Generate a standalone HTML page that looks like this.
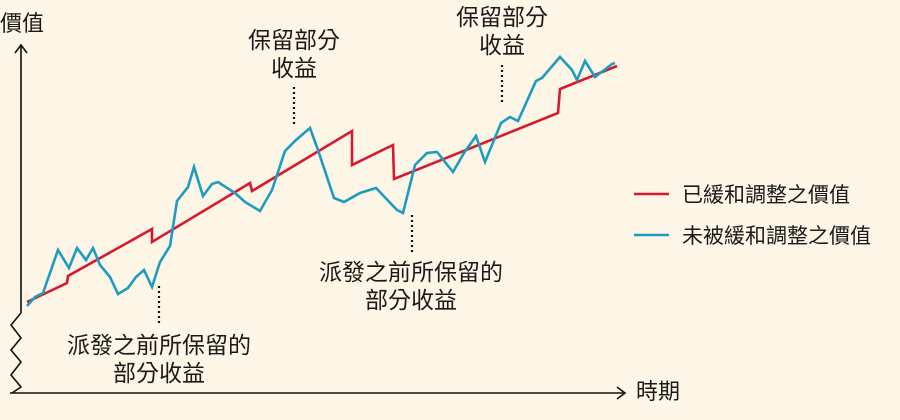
<!DOCTYPE html>
<html><head><meta charset="utf-8"><style>
html,body{margin:0;padding:0;background:#fdf6e6;}
svg{display:block;}
text{font-family:"Liberation Sans","Noto Sans CJK TC",sans-serif;fill:#1a1a1a;}
</style></head><body>
<svg width="900" height="420" viewBox="0 0 900 420" xmlns="http://www.w3.org/2000/svg">
<rect width="900" height="420" fill="#fdf6e6"/>
<g stroke="#111" stroke-width="1.6" fill="none">
<line x1="21" y1="45" x2="21" y2="313"/>
<polyline points="15,53 21,45 27,53"/>
<polyline points="21,313 11,325 21,338 11,350 21,362 11,375 21,387 12,393"/>
<line x1="10" y1="393" x2="625" y2="393"/>
<polyline points="617,387 625,393 617,399"/>
</g>
<g stroke="#111" stroke-width="2.2" stroke-dasharray="2,3" fill="none">
<line x1="159" y1="286" x2="159" y2="326"/>
<line x1="294" y1="87" x2="294" y2="127"/>
<line x1="412" y1="215" x2="412" y2="255"/>
<line x1="502" y1="65" x2="502" y2="105"/>
</g>
<polyline fill="none" stroke="#d7192f" stroke-width="2.6" stroke-linejoin="miter" points="27,302 67,283 68,276 152,229 152,242 250,183 252,191 352,131 352,165 393,145 394,179 558,113 560,89 617,66"/>
<polyline fill="none" stroke="#1d9cc0" stroke-width="2.6" stroke-linejoin="miter" points="27,306 35,297 43,293 58,250 69,268 77,248 86,260 93,248 100,265 110,277 118,294 128,288 136,277 144,270 152,287 160,262 170,246 177,201 188,187 194,167 203,196 212,184 218,182 235,193 245,202 260,211 272,190 285,151 296,140 303,134 310,128 318,150 334,198 344,202 360,193 376,188 397,210 403,213 415,165 427,153 437,152 453,172 464,153 476,136 485,162 501,123 510,117 518,121 536,81 542,78 560,57 572,70 577,80 585,61 595,77 612,64 615,63"/>
<text x="0" y="31" font-size="22">價值</text>
<text x="636" y="399" font-size="22">時期</text>
<g font-size="23" text-anchor="middle">
<text x="294" y="48">保留部分</text>
<text x="294" y="76">收益</text>
<text x="502" y="25">保留部分</text>
<text x="502" y="53">收益</text>
<text x="411" y="280">派發之前所保留的</text>
<text x="411" y="308">部分收益</text>
<text x="159" y="353">派發之前所保留的</text>
<text x="159" y="381">部分收益</text>
</g>
<line x1="634" y1="194" x2="669" y2="194" stroke="#d7192f" stroke-width="2.6"/>
<line x1="634" y1="235" x2="669" y2="235" stroke="#1d9cc0" stroke-width="2.6"/>
<text x="682" y="202" font-size="21">已緩和調整之價值</text>
<text x="682" y="243" font-size="21">未被緩和調整之價值</text>
</svg>
</body></html>
